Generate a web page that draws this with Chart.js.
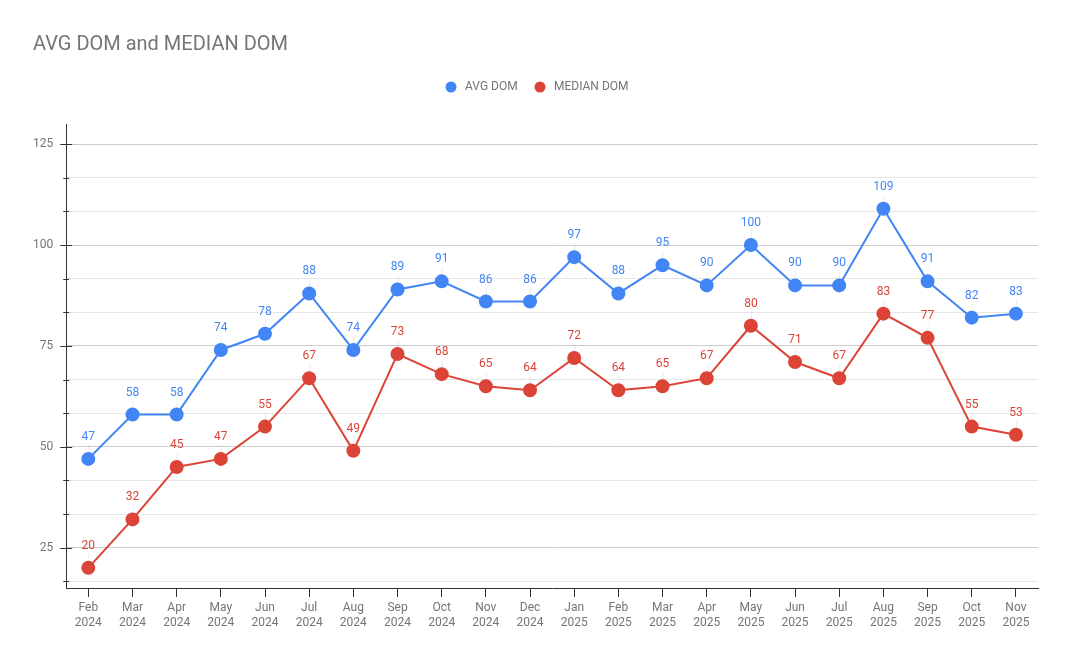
<!DOCTYPE html>
<html>
<head>
<meta charset="utf-8">
<script src="https://cdn.jsdelivr.net/npm/chart.js@4/dist/chart.umd.min.js"></script>
<style>
html,body{margin:0;padding:0;background:#fff;}
#wrap{width:1072px;height:663px;position:relative;}
</style>
</head>
<body>
<div id="wrap"><canvas id="c" width="1072" height="663"></canvas></div>
<script>
const categories = ["Feb|2024","Mar|2024","Apr|2024","May|2024","Jun|2024","Jul|2024","Aug|2024","Sep|2024","Oct|2024","Nov|2024","Dec|2024","Jan|2025","Feb|2025","Mar|2025","Apr|2025","May|2025","Jun|2025","Jul|2025","Aug|2025","Sep|2025","Oct|2025","Nov|2025"];
const avgDom = [47,58,58,74,78,88,74,89,91,86,86,97,88,95,90,100,90,90,109,91,82,83];
const medianDom = [20,32,45,47,55,67,49,73,68,65,64,72,64,65,67,80,71,67,83,77,55,53];
const majorTicks = [25,50,75,100,125];
const minorTicks = [16.667,33.333,41.667,58.333,66.667,83.333,91.667,108.333,116.667];
const titleText = "AVG DOM and MEDIAN DOM";
const seriesNames = ["AVG DOM","MEDIAN DOM"];
const colors = ["#4285F4","#DB4437"];
const FONT = "Roboto, 'Open Sans', sans-serif";

const decor = {
  id:'decor',
  afterDraw(chart){
    const ctx = chart.ctx;
    const ca = chart.chartArea;
    const ys = chart.scales.y;
    ctx.save();
    ctx.fillStyle = '#757575';
    ctx.font = '20px ' + FONT;
    ctx.textBaseline = 'middle';
    ctx.textAlign = 'left';
    ctx.fillText(titleText, 33, 45);
    ctx.font = '12px ' + FONT;
    const items = [{x:451,label:seriesNames[0],c:colors[0]},{x:540,label:seriesNames[1],c:colors[1]}];
    items.forEach(it=>{
      ctx.fillStyle = it.c;
      ctx.beginPath(); ctx.arc(it.x,87,5.5,0,Math.PI*2); ctx.fill();
      ctx.fillStyle = '#757575';
      ctx.fillText(it.label, it.x+14, 87);
    });
    ctx.strokeStyle = '#333';
    ctx.lineWidth = 1;
    ys.ticks.forEach(t=>{
      const y = Math.round(ys.getPixelForValue(t.value)) + 0.5;
      const major = majorTicks.includes(t.value);
      const l = major ? 6 : 3;
      ctx.beginPath(); ctx.moveTo(ca.left-l,y); ctx.lineTo(ca.left+l,y); ctx.stroke();
    });
    chart.data.datasets.forEach((ds,di)=>{
      const meta = chart.getDatasetMeta(di);
      meta.data.forEach((pt,i)=>{
        ctx.strokeStyle = 'rgba(0,0,0,0.08)';
        ctx.beginPath(); ctx.moveTo(pt.x+0.5, pt.y-14); ctx.lineTo(pt.x+0.5, pt.y-6); ctx.stroke();
        ctx.fillStyle = colors[di];
        ctx.font = '12px ' + FONT;
        ctx.textAlign = 'center';
        ctx.textBaseline = 'middle';
        ctx.fillText(String(ds.data[i]), pt.x, pt.y-22);
      });
    });
    ctx.restore();
  }
};

new Chart(document.getElementById('c'), {
  type:'line',
  data:{
    labels: categories.map(s=>s.split('|')),
    datasets:[
      {label:seriesNames[0], data:avgDom, borderColor:colors[0], backgroundColor:colors[0], pointBackgroundColor:colors[0], pointBorderColor:colors[0], borderWidth:2, pointRadius:6, pointHoverRadius:6, tension:0},
      {label:seriesNames[1], data:medianDom, borderColor:colors[1], backgroundColor:colors[1], pointBackgroundColor:colors[1], pointBorderColor:colors[1], borderWidth:2, pointRadius:6, pointHoverRadius:6, tension:0}
    ]
  },
  options:{
    responsive:false,
    animation:false,
    devicePixelRatio:1,
    layout:{padding:{left:20,right:34,top:124,bottom:30}},
    plugins:{legend:{display:false}, title:{display:false}, tooltip:{enabled:false}},
    scales:{
      x:{
        offset:true,
        grid:{display:true, drawOnChartArea:false, drawTicks:true, tickLength:9, color:'#333'},
        border:{display:true, color:'#333', width:1},
        ticks:{color:'#757575', font:{family:FONT, size:12, lineHeight:1.25}, padding:3, maxRotation:0, autoSkip:false}
      },
      y:{
        min:15, max:130,
        afterBuildTicks(scale){
          scale.ticks = majorTicks.concat(minorTicks).sort((a,b)=>a-b).map(v=>({value:v}));
        },
        grid:{drawTicks:false, color:(c)=> majorTicks.includes(c.tick && c.tick.value) ? '#cccccc' : '#e6e6e6', lineWidth:1},
        border:{display:true, color:'#333', width:1},
        ticks:{color:'#757575', font:{family:FONT, size:12}, padding:13,
          callback:(v)=> majorTicks.includes(v) ? String(v) : ''}
      }
    }
  },
  plugins:[decor]
});
</script>
</body>
</html>
